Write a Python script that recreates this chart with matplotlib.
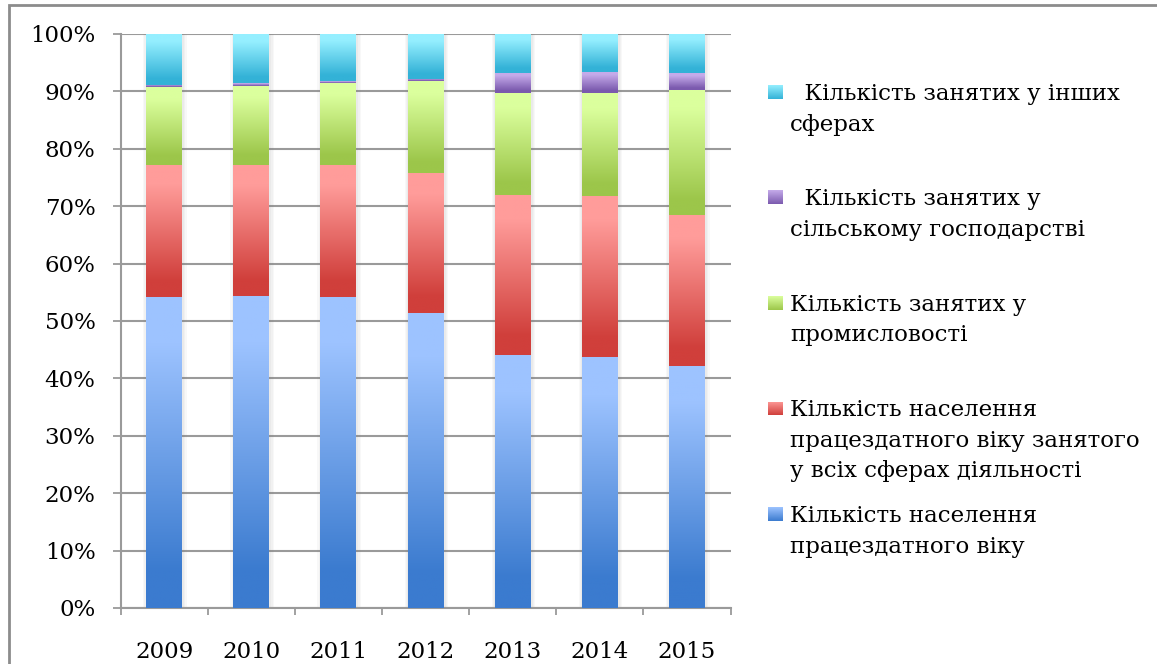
import numpy as np
import matplotlib.pyplot as plt
from matplotlib.colors import LinearSegmentedColormap
from matplotlib.patches import Rectangle

years = ['2009', '2010', '2011', '2012', '2013', '2014', '2015']

# shares, % (bottom to top of each bar)
working_age = [54.2, 54.4, 54.2, 51.4, 44.1, 43.7, 42.2]
employed_all = [23.0, 22.8, 22.9, 24.3, 27.8, 28.1, 26.3]
industry = [13.5, 13.8, 14.4, 16.1, 17.8, 17.9, 21.8]
agriculture = [0.4, 0.5, 0.3, 0.4, 3.5, 3.7, 2.9]
other = [8.9, 8.5, 8.2, 7.8, 6.8, 6.6, 6.8]

series = [working_age, employed_all, industry, agriculture, other]
series_labels = [
    "Кількість населення\nпрацездатного віку",
    "Кількість населення\nпрацездатного віку занятого\nу всіх сферах діяльності",
    "Кількість занятих у\nпромисловості",
    "  Кількість занятих у\nсільському господарстві",
    "  Кількість занятих у інших\nсферах",
]
# (bottom colour, top colour)
gradients = [
    ('#3b7bcf', '#9dc3ff'),
    ('#d03f3b', '#ff9c9a'),
    ('#9cc64a', '#dbff9d'),
    ('#7b5aae', '#c5abea'),
    ('#33b2d7', '#95efff'),
]

W, H = 1157, 664
plt.rcParams['font.family'] = ['DejaVu Serif']
fig = plt.figure(figsize=(W / 100, H / 100), dpi=100)
ax = fig.add_axes([120.5 / W, 1 - 608 / H, 610 / W, 574 / H])

x = np.arange(len(years))
bar_w = 0.41
grey = '#9a9a9a'

# soft shadow behind the bars
totals = np.sum(series, axis=0)
for k, a in enumerate([0.05, 0.05, 0.06]):
    ax.bar(x + 0.01, totals, width=bar_w + 0.09 - k * 0.03, color='#808080',
           alpha=a, zorder=2, linewidth=0)

bottom = np.zeros(len(years))
grad = np.linspace(0, 1, 256).reshape(-1, 1)
for vals, (c0, c1) in zip(series, gradients):
    cmap = LinearSegmentedColormap.from_list(
        'g', [(0, c0), (0.12, c0), (0.85, c1), (1, c1)])
    bars = ax.bar(x, vals, bar_w, bottom=bottom, color='none', linewidth=0, zorder=3)
    for p in bars:
        x0, y0 = p.get_x(), p.get_y()
        ax.imshow(grad, cmap=cmap, origin='lower', aspect='auto', zorder=3,
                  extent=[x0, x0 + p.get_width(), y0, y0 + p.get_height()])
    bottom += np.array(vals)

ax.set_xlim(-0.5, len(years) - 0.5)
ax.set_ylim(0, 100)
ax.set_yticks(np.arange(0, 101, 10))
ax.set_yticklabels([f'{v}%' for v in range(0, 101, 10)], fontsize=16.5)
ax.set_xticks(x)
ax.set_xticklabels(years, fontsize=16.5)
ax.set_xticks(np.arange(-0.5, len(years)), minor=True)
ax.tick_params(axis='x', which='major', length=0, pad=24)
ax.tick_params(axis='x', which='minor', length=5, width=1.3, color=grey)
ax.tick_params(axis='y', length=6, width=1.3, color=grey, pad=12)
ax.grid(axis='y', color=grey, linewidth=1.5, zorder=0)
ax.set_axisbelow(True)
for s in ['top', 'right']:
    ax.spines[s].set_visible(False)
for s in ['left', 'bottom']:
    ax.spines[s].set_color(grey)
    ax.spines[s].set_linewidth(1.5)

# legend, top entry = top series
for i, k in enumerate(range(len(series) - 1, -1, -1)):
    c0, c1 = gradients[k]
    cmap = LinearSegmentedColormap.from_list('g', [c0, c1])
    cy = 92 + i * 105.5
    lax = fig.add_axes([768 / W, 1 - (cy + 7) / H, 15 / W, 14 / H])
    lax.imshow(grad, cmap=cmap, origin='lower', aspect='auto')
    lax.axis('off')
    for j, line in enumerate(series_labels[k].split('\n')):
        by = 100 + i * 105.5 + j * 30.5
        fig.text(790 / W, 1 - by / H, line, fontsize=16.5, va='baseline',
                 ha='left', color='black')

# chart frame (left and top edges visible)
fig.patches.append(Rectangle((9 / W, -0.1), 1.2, 1 - 5 / H + 0.1,
                             transform=fig.transFigure, fill=False,
                             edgecolor='#8c8c8c', linewidth=2))

fig.savefig('out.png', dpi=100)
